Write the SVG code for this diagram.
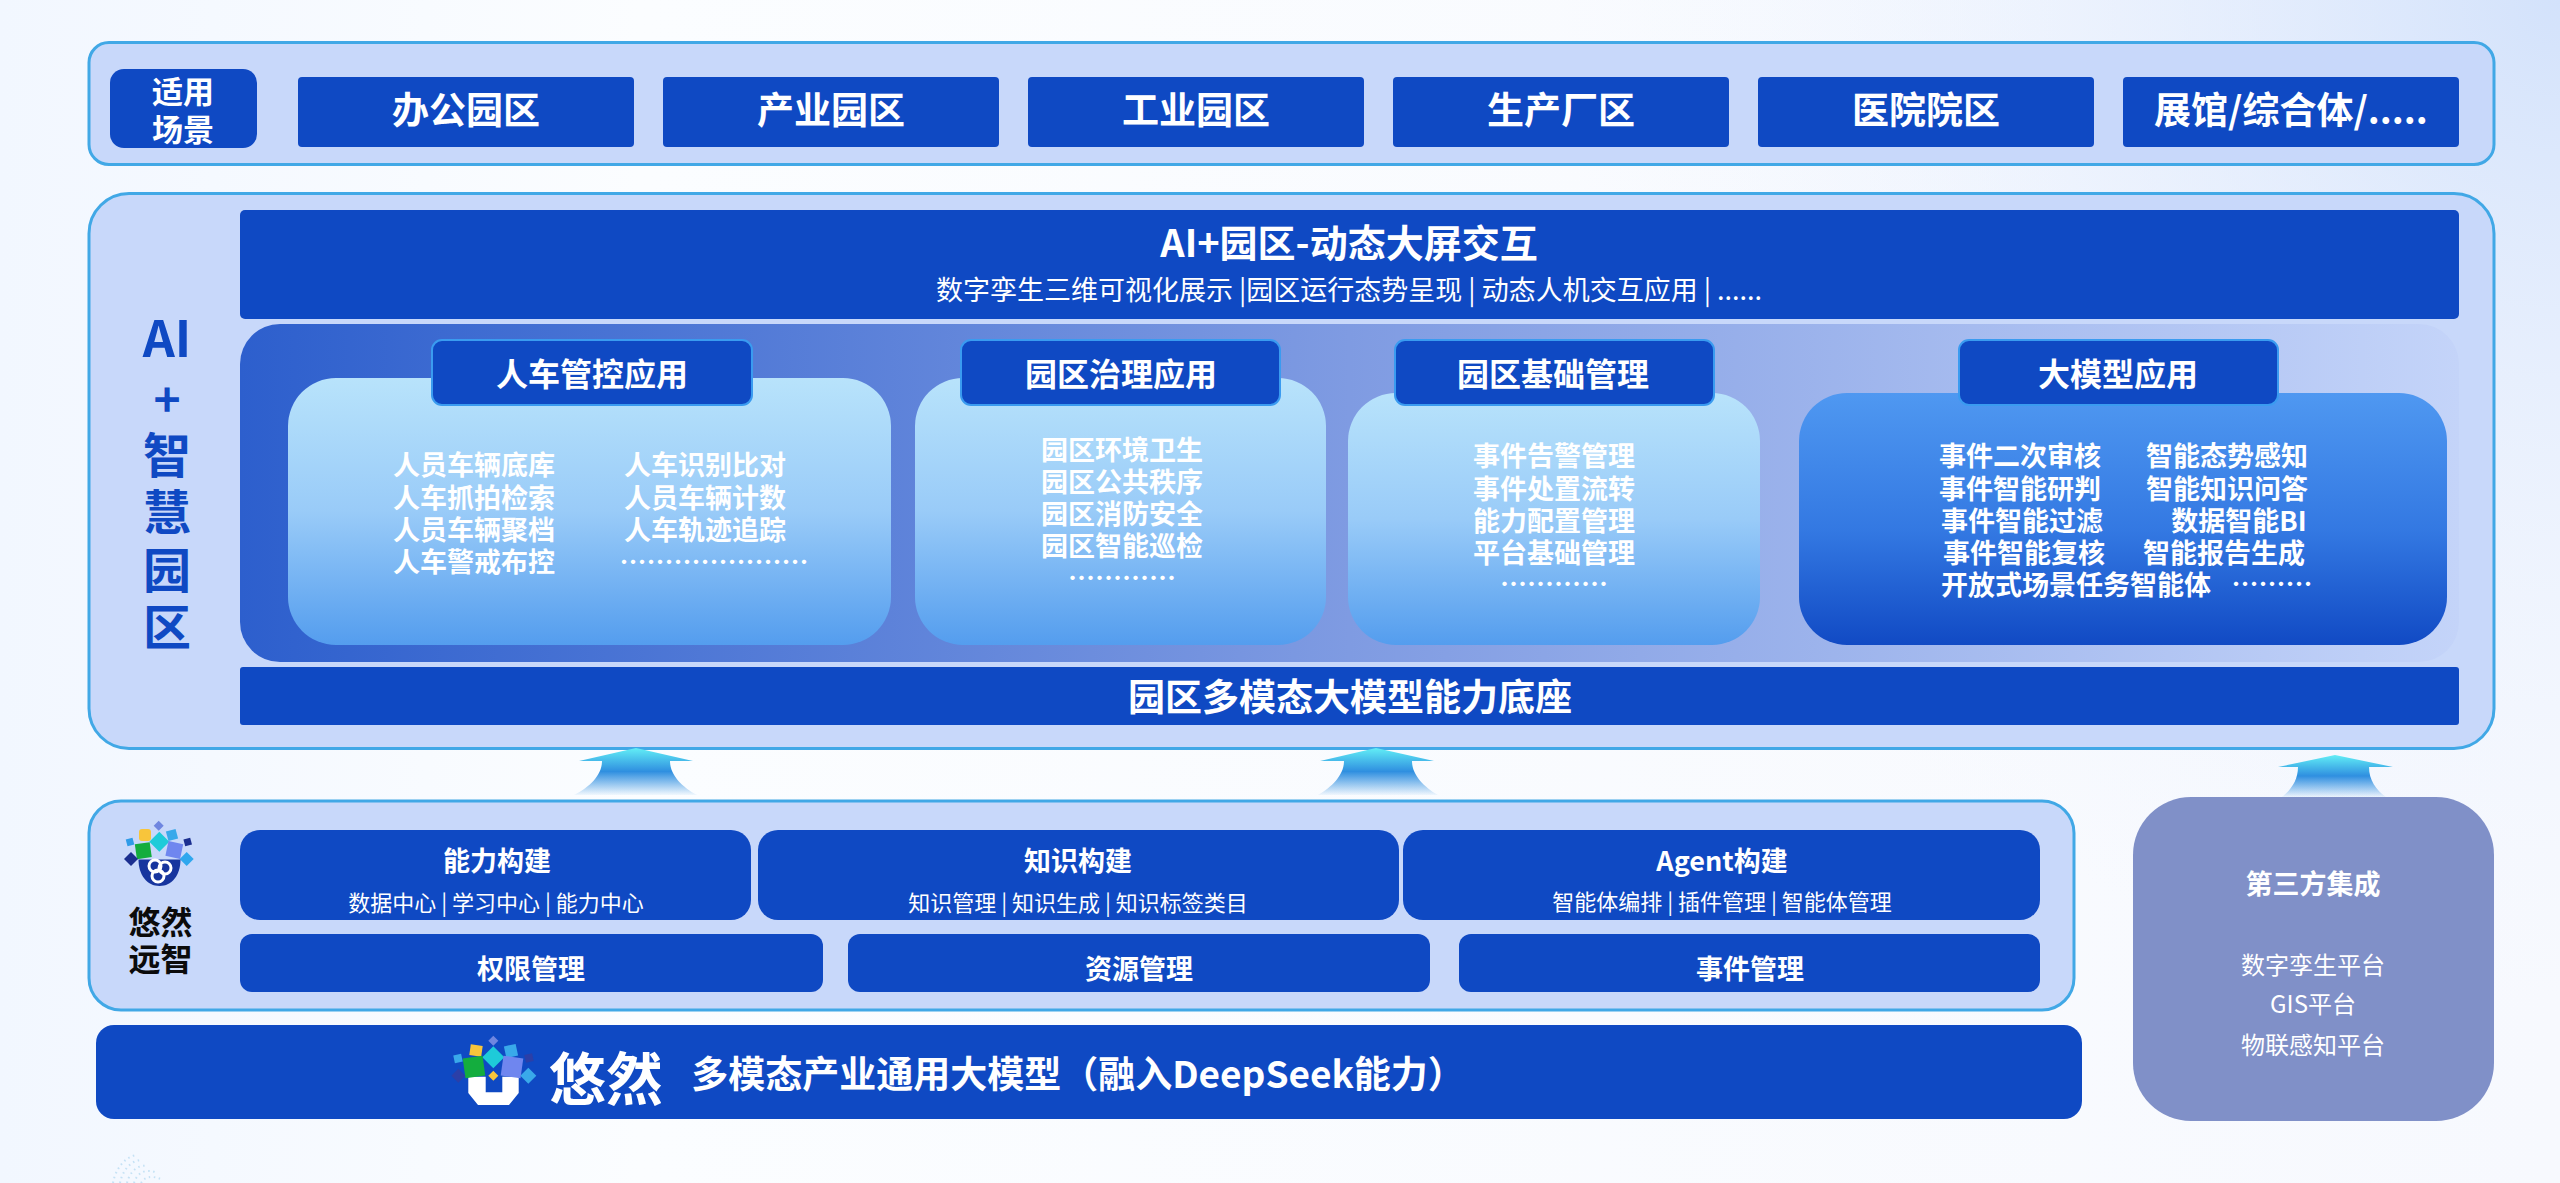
<svg xmlns="http://www.w3.org/2000/svg" width="2560" height="1183" viewBox="0 0 2560 1183">
<style>
text{font-family:"Noto Sans CJK SC","Noto Sans",sans-serif;text-anchor:middle;dominant-baseline:central;fill:#fff}
.b{font-weight:700}
.r{font-weight:400}
.panel{fill:#c8d8fa;stroke:#41a8e6;stroke-width:3}
.dark{fill:#0f49c3}
.ct{fill:#0f49c3;stroke:#3a9bf0;stroke-width:2}
.t37{font-size:37px;font-weight:700}
.t32{font-size:32px;font-weight:700}
.t27{font-size:27px;font-weight:700}
.sub{font-size:22px;font-weight:400}
.soft{fill:#f2f8ff}
</style>
<defs>
<linearGradient id="bg" x1="0" y1="0" x2="1" y2="0"><stop offset="0" stop-color="#f2f7ff"/><stop offset=".25" stop-color="#fbfdff"/><stop offset="1" stop-color="#f7f9fe"/></linearGradient>
<radialGradient id="bgTR" gradientUnits="userSpaceOnUse" cx="2560" cy="0" r="1000"><stop offset="0" stop-color="#d3e2fb"/><stop offset="1" stop-color="#eef4ff" stop-opacity="0"/></radialGradient>
<linearGradient id="stage" x1="0" y1="0" x2="1" y2="0"><stop offset="0" stop-color="#2d5fcd"/><stop offset=".5" stop-color="#7f9be2"/><stop offset="1" stop-color="#c4d4f9"/></linearGradient>
<linearGradient id="cardL" x1="0" y1="0" x2="0" y2="1"><stop offset="0" stop-color="#b8e3fb"/><stop offset=".5" stop-color="#99cbf8"/><stop offset="1" stop-color="#549dee"/></linearGradient>
<linearGradient id="cardD" x1="0" y1="0" x2="0" y2="1"><stop offset="0" stop-color="#4f98f1"/><stop offset=".55" stop-color="#3378e2"/><stop offset="1" stop-color="#114ac4"/></linearGradient>
<linearGradient id="arrow" x1="0" y1="0" x2="0" y2="1"><stop offset="0" stop-color="#62eef6"/><stop offset=".5" stop-color="#2f8fe0"/><stop offset="1" stop-color="#2f8fe0" stop-opacity=".05"/></linearGradient>
</defs>
<rect width="2560" height="1183" fill="url(#bg)"/>
<rect width="2560" height="1183" fill="url(#bgTR)"/>
<g fill="none" stroke="#9fd0ee" stroke-width="2" stroke-dasharray="1.5 3.5" opacity=".55">
<path d="M113 1183C115 1170 125 1156 137 1155"/><path d="M120 1183C122 1172 130 1160 142 1160"/><path d="M127 1183C129 1174 136 1164 148 1166"/><path d="M134 1183C136 1176 142 1168 155 1172"/><path d="M141 1183C144 1178 150 1174 163 1180"/>
</g>

<g id="scenes-panel">
<rect class="panel" x="89" y="42.500" width="2405" height="122" rx="20"/>
</g>
<g id="scene-tag"><rect class="dark" x="110" y="69" width="147" height="79" rx="14"/><text class="b" x="183" y="89" font-size="31">适用</text><text class="b" x="183" y="127" font-size="31">场景</text></g>
<g id="scene-1"><rect class="dark" x="298" y="77" width="336" height="70" rx="4"/><text class="t37" x="466" y="108">办公园区</text></g>
<g id="scene-2"><rect class="dark" x="663" y="77" width="336" height="70" rx="4"/><text class="t37" x="831" y="108">产业园区</text></g>
<g id="scene-3"><rect class="dark" x="1028" y="77" width="336" height="70" rx="4"/><text class="t37" x="1196" y="108">工业园区</text></g>
<g id="scene-4"><rect class="dark" x="1393" y="77" width="336" height="70" rx="4"/><text class="t37" x="1561" y="108">生产厂区</text></g>
<g id="scene-5"><rect class="dark" x="1758" y="77" width="336" height="70" rx="4"/><text class="t37" x="1926" y="108">医院院区</text></g>
<g id="scene-6"><rect class="dark" x="2123" y="77" width="336" height="70" rx="4"/><text class="t37" x="2291" y="108">展馆/综合体/.....</text></g>

<g id="ai-panel">
<rect class="panel" x="89" y="193.500" width="2405" height="555" rx="40"/>
<g fill="#0f49c3" style="fill:#0f49c3">
<text class="b" x="167" y="335" font-size="50" style="fill:#0f49c3">AI</text>
<text class="b" x="167" y="397" font-size="46" style="fill:#0f49c3">+</text>
<text class="b" x="167" y="452" font-size="48" style="fill:#0f49c3">智</text>
<text class="b" x="167" y="509" font-size="48" style="fill:#0f49c3">慧</text>
<text class="b" x="167" y="567" font-size="48" style="fill:#0f49c3">园</text>
<text class="b" x="167" y="624" font-size="48" style="fill:#0f49c3">区</text>
</g>
</g>
<g id="ai-header"><rect class="dark" x="240" y="210" width="2219" height="109" rx="5"/>
<text class="b" x="1349" y="240" font-size="38">AI+园区-动态大屏交互</text>
<text class="r" x="1349" y="288" font-size="27">数字孪生三维可视化展示 |园区运行态势呈现 | 动态人机交互应用 | ......</text></g>
<rect id="stage" x="240" y="324" width="2219" height="338" rx="40" fill="url(#stage)"/>

<g id="card-people">
<rect x="288" y="378" width="603" height="267" rx="48" fill="url(#cardL)"/>
<rect class="ct" x="432" y="340" width="320" height="65" rx="10"/>
<text class="t32" x="592" y="372">人车管控应用</text>
<g class="t27 soft"><text x="474" y="463">人员车辆底库</text><text x="474" y="496">人车抓拍检索</text><text x="474" y="528">人员车辆聚档</text><text x="474" y="560">人车警戒布控</text>
<text x="705" y="463">人车识别比对</text><text x="705" y="496">人员车辆计数</text><text x="705" y="528">人车轨迹追踪</text><text x="714" y="560">…………………</text></g>
</g>
<g id="card-gov">
<rect x="915" y="378" width="411" height="267" rx="48" fill="url(#cardL)"/>
<rect class="ct" x="961" y="340" width="319" height="65" rx="10"/>
<text class="t32" x="1121" y="372">园区治理应用</text>
<g class="t27 soft"><text x="1122" y="448">园区环境卫生</text><text x="1122" y="480">园区公共秩序</text><text x="1122" y="512">园区消防安全</text><text x="1122" y="544">园区智能巡检</text><text x="1122" y="576">…………</text></g>
</g>
<g id="card-base">
<rect x="1348" y="393" width="412" height="252" rx="48" fill="url(#cardL)"/>
<rect class="ct" x="1395" y="340" width="319" height="65" rx="10"/>
<text class="t32" x="1553" y="372">园区基础管理</text>
<g class="t27 soft"><text x="1554" y="454">事件告警管理</text><text x="1554" y="487">事件处置流转</text><text x="1554" y="519">能力配置管理</text><text x="1554" y="551">平台基础管理</text><text x="1554" y="582">…………</text></g>
</g>
<g id="card-llm">
<rect x="1799" y="393" width="648" height="252" rx="48" fill="url(#cardD)"/>
<rect class="ct" x="1959" y="340" width="319" height="65" rx="10"/>
<text class="t32" x="2118" y="372">大模型应用</text>
<g class="t27"><text x="2020" y="454">事件二次审核</text><text x="2020" y="487">事件智能研判</text><text x="2022" y="519">事件智能过滤</text><text x="2024" y="551">事件智能复核</text><text x="2076" y="583">开放式场景任务智能体</text>
<text x="2227" y="454">智能态势感知</text><text x="2227" y="487">智能知识问答</text><text x="2239" y="519">数据智能BI</text><text x="2224" y="551">智能报告生成</text><text x="2272" y="582">………</text></g>
</g>
<g id="ai-base"><rect class="dark" x="240" y="667" width="2219" height="58" rx="3"/><text class="t37" x="1350" y="695">园区多模态大模型能力底座</text></g>

<g id="connectors" fill="url(#arrow)">
<path d="M636 748L693 761H670C670 775 682 787 697 795H574C590 787 602 775 602 761H579Z"/>
<path d="M1376 748L1434 761H1412C1412 775 1424 787 1438 795H1318C1332 787 1344 775 1344 761H1320Z"/>
</g>

<g id="build-panel">
<rect class="panel" x="89" y="801" width="1985" height="209" rx="32"/>
<g id="logo-small">
<path fill="#6f86e0" d="M158.700 820.700l5 5-5 5-5-5z"/>
<rect fill="#f8c53b" x="139" y="829" width="12" height="12" rx="3"/>
<rect fill="#39a9ea" x="167" y="830" width="10" height="10" transform="rotate(-15 172 835)"/>
<path fill="#1ecbd9" d="M159.300 831.700l10 10-10 10-10-10z"/>
<rect fill="#2f9be8" x="126.500" y="838.500" width="7" height="7" transform="rotate(-15 130 842)"/>
<rect fill="#1b2f90" x="184.200" y="838.500" width="7" height="7" transform="rotate(-15 187.700 842)"/>
<rect fill="#14ad3e" x="135.800" y="843.200" width="15" height="15" transform="rotate(-8 143.300 850.700)"/>
<rect fill="#6f86ef" x="166.800" y="842.500" width="15" height="15" transform="rotate(12 174.300 850)"/>
<path fill="#1b2f90" d="M131 852l7 7-7 7-7-7z"/>
<path fill="#2fa7ee" d="M186.700 852l7 7-7 7-7-7z"/>
<path fill="#17359e" d="M138.500 859.500H180.500C180.500 875 172 886 159.500 886S138.500 875 138.500 859.500Z"/>
<g fill="none" stroke="#fff" stroke-width="3"><circle cx="155" cy="866" r="6"/><circle cx="165" cy="868" r="6"/><circle cx="158" cy="876" r="6"/></g>
</g>
<text class="b" x="160.500" y="920" font-size="32" style="fill:#0b0b0b">悠然</text>
<text class="b" x="160.500" y="957" font-size="32" style="fill:#0b0b0b">远智</text>
</g>
<g id="build-cap"><rect class="dark" x="240" y="830" width="511" height="90" rx="20"/><text class="t27" x="497" y="859">能力构建</text><text class="sub" x="496" y="901">数据中心 | 学习中心 | 能力中心</text></g>
<g id="build-know"><rect class="dark" x="758" y="830" width="641" height="90" rx="20"/><text class="t27" x="1078" y="859">知识构建</text><text class="sub" x="1078" y="901">知识管理 | 知识生成 | 知识标签类目</text></g>
<g id="build-agent"><rect class="dark" x="1403" y="830" width="637" height="90" rx="20"/><text class="t27" x="1722" y="859">Agent构建</text><text class="sub" x="1722" y="900">智能体编排 | 插件管理 | 智能体管理</text></g>
<g id="mgmt-auth"><rect class="dark" x="240" y="934" width="583" height="58" rx="12"/><text class="t27" x="531" y="967">权限管理</text></g>
<g id="mgmt-res"><rect class="dark" x="848" y="934" width="582" height="58" rx="12"/><text class="t27" x="1139" y="967">资源管理</text></g>
<g id="mgmt-evt"><rect class="dark" x="1459" y="934" width="581" height="58" rx="12"/><text class="t27" x="1750" y="967">事件管理</text></g>

<g id="model-bar"><rect class="dark" x="96" y="1025" width="1986" height="94" rx="18"/>
<g id="logo-large">
<path fill="#fff" d="M468.300 1076.700H485.700V1092.300H502.300V1076.700H518.700V1093L509 1105H478L468.300 1093Z"/>
<path fill="#6f86e0" d="M493.300 1035.700l5 5-5 5-5-5z"/>
<rect fill="#f8c53b" x="470" y="1045" width="12" height="11" transform="rotate(8 476 1050.500)"/>
<rect fill="#39a9ea" x="505" y="1045" width="12" height="12" transform="rotate(-12 511 1051)"/>
<path fill="#1ecbd9" d="M493.300 1046.300l11 11-11 11-11-11z"/>
<rect fill="#39a9ea" x="454" y="1054.500" width="8" height="8" transform="rotate(-12 458 1058.500)"/>
<rect fill="#2b3fa8" x="525" y="1054" width="8" height="8" transform="rotate(-12 529 1058)"/>
<rect fill="#14ad3e" x="464" y="1057" width="20" height="20" transform="rotate(-8 474 1067)"/>
<rect fill="#6f86ef" x="502" y="1057" width="20" height="20" transform="rotate(8 512 1067)"/>
<path fill="#2b3fa8" d="M458.300 1068.700l7 7-7 7-7-7z"/>
<path fill="#f8c53b" d="M493.300 1070.700l5 5-5 5-5-5z"/>
<path fill="#39a9ea" d="M528.300 1067.700l8 8-8 8-8-8z"/>
</g>
<text class="b" x="606" y="1075" font-size="57">悠然</text>
<text class="b" x="1078" y="1072" font-size="37">多模态产业通用大模型（融入DeepSeek能力）</text>
</g>

<g id="third-party">
<rect x="2133" y="797" width="361" height="324" rx="58" fill="#8090c8"/>
<text class="t27" x="2313" y="882">第三方集成</text>
<g class="r" font-size="24"><text x="2313" y="963">数字孪生平台</text><text x="2313" y="1002">GIS平台</text><text x="2313" y="1043">物联感知平台</text></g>
</g>
<g id="connector-third"><path fill="url(#arrow)" d="M2335 755L2393 767H2369C2369 780 2376 790 2386 797H2282C2291 790 2298 780 2298 767H2278Z"/></g>
</svg>
